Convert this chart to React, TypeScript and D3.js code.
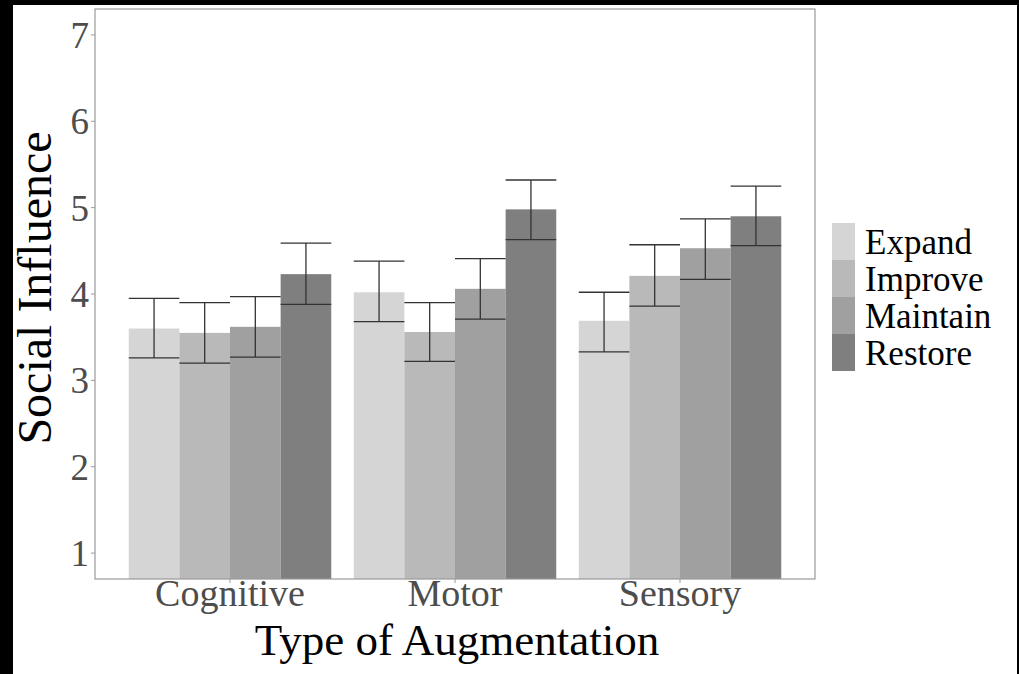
import React from "react";
import * as d3 from "d3";

const categories = ["Cognitive", "Motor", "Sensory"];
const seriesNames = ["Expand", "Improve", "Maintain", "Restore"];
const seriesColors = ["#d5d5d5", "#b9b9b9", "#a0a0a0", "#7f7f7f"];
const expandMean = [3.6, 4.02, 3.69];
const improveMean = [3.55, 3.56, 4.21];
const maintainMean = [3.62, 4.06, 4.53];
const restoreMean = [4.23, 4.98, 4.9];
const expandLow = [3.26, 3.68, 3.33];
const improveLow = [3.2, 3.22, 3.86];
const maintainLow = [3.27, 3.71, 4.17];
const restoreLow = [3.88, 4.63, 4.56];
const expandHigh = [3.95, 4.38, 4.02];
const improveHigh = [3.9, 3.9, 4.57];
const maintainHigh = [3.97, 4.41, 4.87];
const restoreHigh = [4.59, 5.32, 5.25];
const yTicks = [1, 2, 3, 4, 5, 6, 7];

const means = [expandMean, improveMean, maintainMean, restoreMean];
const lows = [expandLow, improveLow, maintainLow, restoreLow];
const highs = [expandHigh, improveHigh, maintainHigh, restoreHigh];

const W = 1019;
const H = 674;
const panel = { left: 95, right: 815, top: 9, bottom: 579 };
const FONT = "'Liberation Serif', 'Times New Roman', serif";

export default function App() {
  const x0 = d3
    .scaleBand<string>()
    .domain(categories)
    .range([panel.left, panel.right])
    .paddingInner(0.1)
    .paddingOuter(0.15);
  const x1 = d3
    .scaleBand<string>()
    .domain(seriesNames)
    .range([0, x0.bandwidth()])
    .padding(0);
  const y = d3.scaleLinear().domain([0.7, 7.3]).range([panel.bottom, panel.top]);

  const bars: any[] = [];
  const errs: any[] = [];
  categories.forEach((c, ci) => {
    seriesNames.forEach((s, si) => {
      const bx = (x0(c) as number) + (x1(s) as number);
      const bw = x1.bandwidth();
      const v = means[si][ci];
      bars.push(
        <rect
          key={`b-${c}-${s}`}
          x={bx}
          y={y(v)}
          width={bw}
          height={y(0.7) - y(v)}
          fill={seriesColors[si]}
        />
      );
      const cx = bx + bw / 2;
      const lo = y(lows[si][ci]);
      const hi = y(highs[si][ci]);
      errs.push(
        <g key={`e-${c}-${s}`} stroke="#333333" strokeWidth={1.3}>
          <line x1={cx} x2={cx} y1={lo} y2={hi} />
          <line x1={bx} x2={bx + bw} y1={lo} y2={lo} />
          <line x1={bx} x2={bx + bw} y1={hi} y2={hi} />
        </g>
      );
    });
  });

  const legendX = 832;
  const legendTop = 223;
  const keyH = 37;
  const keyW = 23;

  return (
    <svg
      width={W}
      height={H}
      style={{ position: "absolute", left: 0, top: 0, display: "block" }}
      fontFamily={FONT}
    >
      <rect x={0} y={0} width={W} height={H} fill="#000" />
      <rect x={13} y={5} width={1004} height={H - 5} fill="#fff" />
      <defs>
        <clipPath id="panelClip">
          <rect
            x={panel.left}
            y={panel.top}
            width={panel.right - panel.left}
            height={panel.bottom - panel.top}
          />
        </clipPath>
      </defs>
      <g clipPath="url(#panelClip)">
        {bars}
        {errs}
      </g>
      <rect
        x={panel.left}
        y={panel.top}
        width={panel.right - panel.left}
        height={panel.bottom - panel.top}
        fill="none"
        stroke="#9a9a9a"
        strokeWidth={1.2}
      />
      {yTicks.map((t) => (
        <g key={`yt-${t}`}>
          <line x1={panel.left - 4} x2={panel.left} y1={y(t)} y2={y(t)} stroke="#9a9a9a" />
          <text
            x={panel.left - 6}
            y={y(t)}
            dy="0.35em"
            textAnchor="end"
            fontSize={37}
            fill="#4d4d4d"
          >
            {t}
          </text>
        </g>
      ))}
      {categories.map((c) => {
        const cx = (x0(c) as number) + x0.bandwidth() / 2;
        return (
          <g key={`xt-${c}`}>
            <line x1={cx} x2={cx} y1={panel.bottom} y2={panel.bottom + 4} stroke="#9a9a9a" />
            <text x={cx} y={606} textAnchor="middle" fontSize={38} fill="#4d4d4d">
              {c}
            </text>
          </g>
        );
      })}
      <text x={457} y={655} textAnchor="middle" fontSize={45} fill="#000">
        Type of Augmentation
      </text>
      <text
        transform={`translate(51, ${(panel.top + panel.bottom) / 2 - 6}) rotate(-90)`}
        textAnchor="middle"
        fontSize={48}
        fill="#000"
      >
        Social Influence
      </text>
      {seriesNames.map((s, i) => (
        <g key={`lg-${s}`}>
          <rect
            x={legendX}
            y={legendTop + i * keyH}
            width={keyW}
            height={keyH}
            fill={seriesColors[i]}
          />
          <text
            x={legendX + keyW + 10}
            y={legendTop + i * keyH + keyH / 2}
            dy="0.35em"
            fontSize={35}
            fill="#000"
          >
            {s}
          </text>
        </g>
      ))}
      <rect x={1017} y={0} width={2} height={H} fill="#000" />
    </svg>
  );
}
